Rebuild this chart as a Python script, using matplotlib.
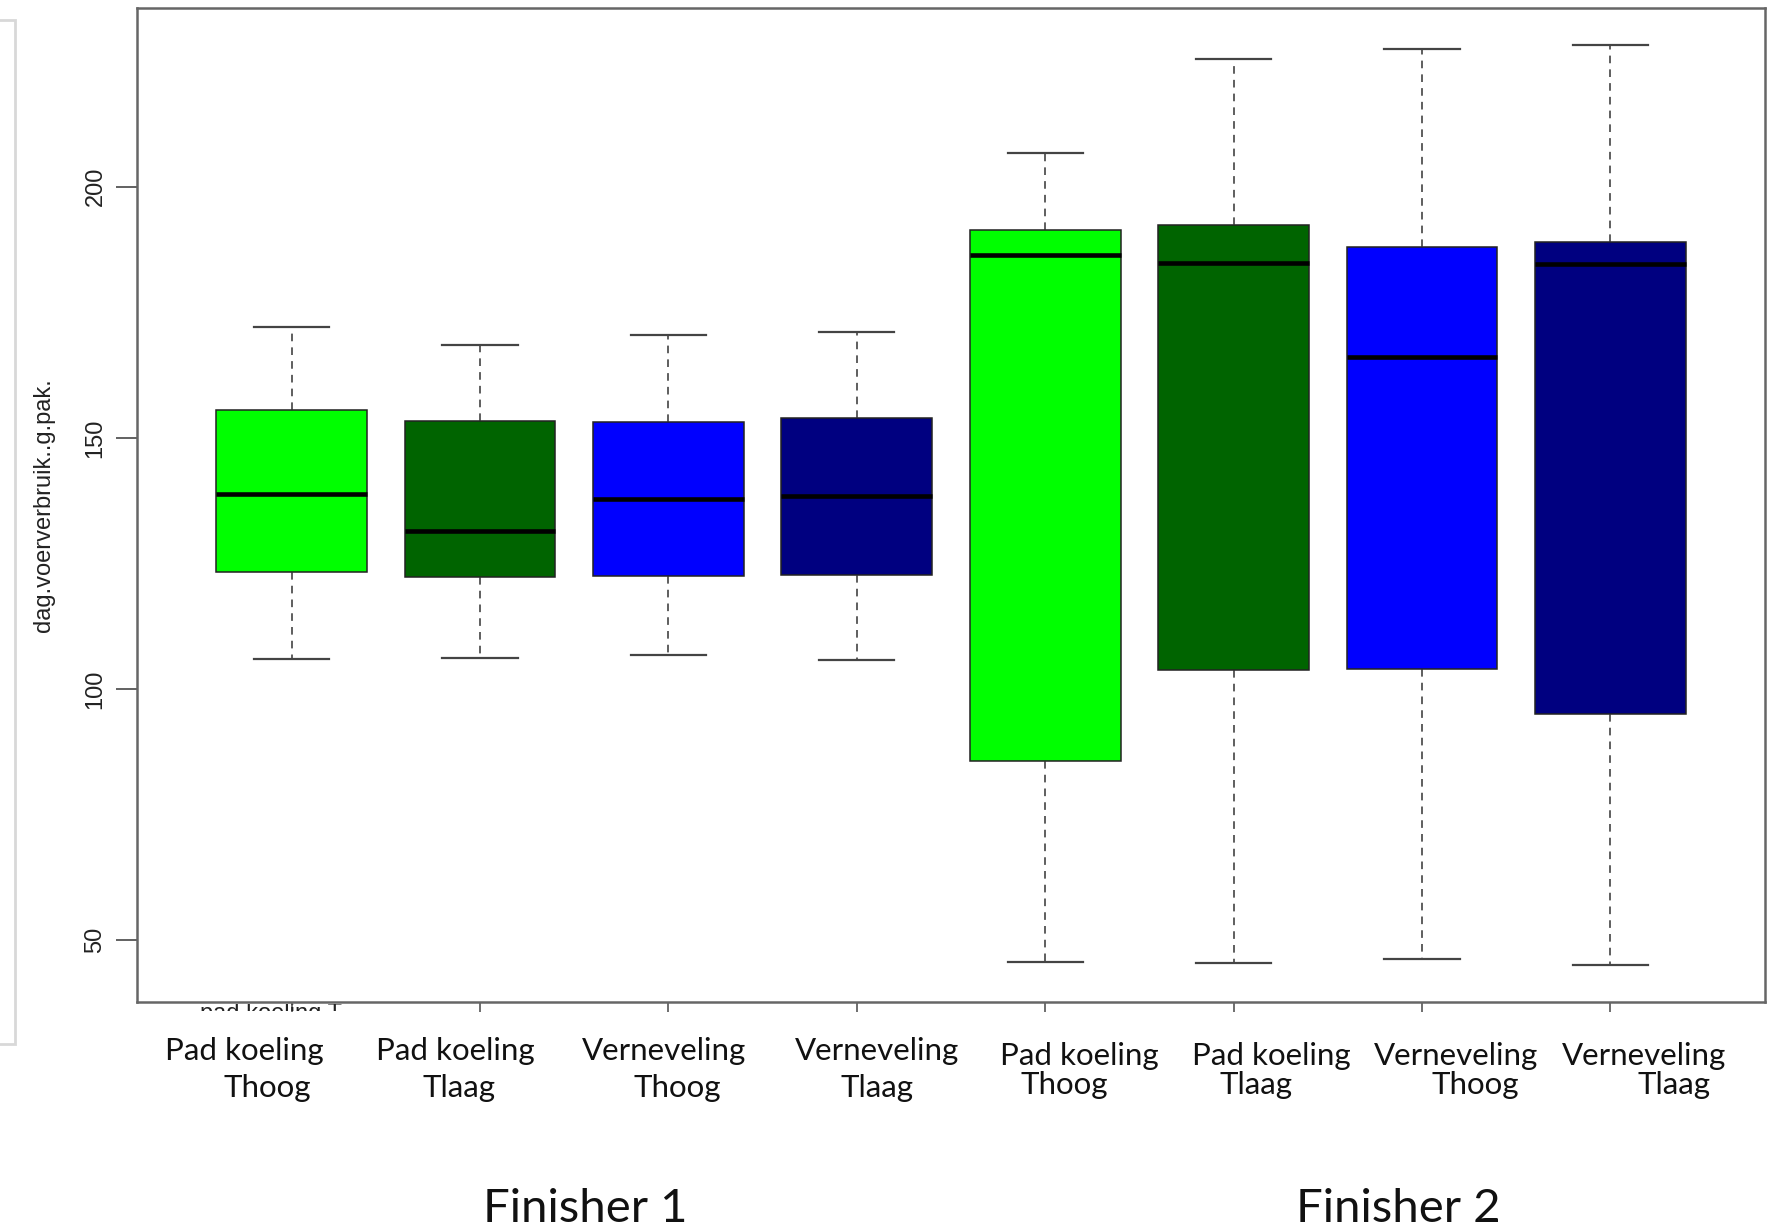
import matplotlib
matplotlib.use("Agg")
import matplotlib.pyplot as plt
from matplotlib.patches import Rectangle
from matplotlib.transforms import Bbox, TransformedBbox

# Data
groups = ["Pad koeling\nThoog", "Pad koeling\nTlaag", "Verneveling\nThoog", "Verneveling\nTlaag",
          "Pad koeling\nThoog", "Pad koeling\nTlaag", "Verneveling\nThoog", "Verneveling\nTlaag"]
whis_lo = [106.0, 106.2, 106.7, 105.8, 45.7, 45.5, 46.2, 45.0]
q1 = [123.4, 122.3, 122.5, 122.7, 85.6, 103.7, 103.9, 95.1]
med = [138.8, 131.4, 137.9, 138.4, 186.4, 184.8, 166.2, 184.6]
q3 = [155.6, 153.3, 153.1, 154.0, 191.4, 192.3, 188.0, 189.1]
whis_hi = [172.1, 168.5, 170.5, 171.0, 206.8, 225.4, 227.4, 228.3]
colors = ["#00ff00", "#006400", "#0000ff", "#000080"] * 2
yticks = [50, 100, 150, 200]
finishers = ["Finisher 1", "Finisher 2"]

W, H = 1786, 1227
fig = plt.figure(figsize=(W / 100, H / 100), dpi=100)
ax = fig.add_axes([137 / W, 1 - 1002 / H, (1765 - 137) / W, (1002 - 8) / H])

stats = []
for i in range(len(groups)):
    stats.append(dict(whislo=whis_lo[i], q1=q1[i], med=med[i], q3=q3[i], whishi=whis_hi[i], fliers=[]))

pos = list(range(1, len(groups) + 1))
bp = ax.bxp(stats, positions=pos, widths=0.8, capwidths=0.4, patch_artist=True,
            boxprops=dict(edgecolor="#222222", linewidth=1.1),
            medianprops=dict(color="black", linewidth=3.3, solid_capstyle="butt"),
            whiskerprops=dict(color="#333333", linewidth=1.1, linestyle=(0, (5, 4))),
            capprops=dict(color="#444444", linewidth=1.6))
for b, c in zip(bp["boxes"], colors):
    b.set_facecolor(c)

ax.set_xlim(0.18, 8.82)
ax.set_ylim(37.7, 235.6)
ax.set_yticks(yticks)
ax.set_yticklabels([str(v) for v in yticks], rotation=90, va="center",
                   fontsize=17, family="Liberation Sans", color="#222222")
ax.set_xticks(pos)
ax.set_xticklabels([])
ax.tick_params(axis="y", length=15, width=1.3, color="#555555", pad=7)
ax.tick_params(axis="x", length=7, width=1.2, color="#555555")
for s in ax.spines.values():
    s.set_color("#666666")
    s.set_linewidth(1.8)
ax.set_ylabel("dag.voerverbruik..g.pak.", fontsize=17, family="Liberation Sans",
              color="#222222", labelpad=21)

# overlaid category labels (pasted text, slightly offset)
line1_dx = [-0.25, -0.13, -0.02, 0.11, 0.18, 0.20, 0.18, 0.18]
line2_dx = [-0.13, -0.11, 0.05, 0.11, 0.10, 0.12, 0.28, 0.34]
line_y = [(1051, 1088)] * 4 + [(1056, 1085)] * 4
tr = ax.get_xaxis_transform()
p = ax.get_position()
for i, g in enumerate(groups):
    a, b = g.split("\n")
    y1 = (1 - line_y[i][0] / H - p.y0) / p.height
    y2 = (1 - line_y[i][1] / H - p.y0) / p.height
    ax.text(pos[i] + line1_dx[i], y1, a, transform=tr, ha="center", va="center",
            fontsize=22.5, family="Lato", color="#111111", clip_on=False)
    ax.text(pos[i] + line2_dx[i], y2, b, transform=tr, ha="center", va="center",
            fontsize=22.5, family="Lato", color="#111111", clip_on=False)

for name, x in zip(finishers, [585, 1398]):
    fig.text(x / W, 1 - 1209 / H, name, ha="center", va="center", fontsize=34,
             family="Lato", color="#111111")

# half-hidden original R label under the axis
t = fig.text(200 / W, 1 - 1003 / H, "pad koeling T", fontsize=17, family="Liberation Sans",
             color="#222222", va="top")
t.set_clip_box(TransformedBbox(Bbox([[0, 1 - 1011 / H], [1, 1 - 1004 / H]]), fig.transFigure))

# thin gray panel border on the left edge
fig.patches.append(Rectangle((-0.02, 1 - 1044 / H), 0.0284, (1044 - 20) / H, transform=fig.transFigure,
                             fill=False, edgecolor="#d8d8d8", linewidth=2))

fig.savefig("out.png", dpi=100)
